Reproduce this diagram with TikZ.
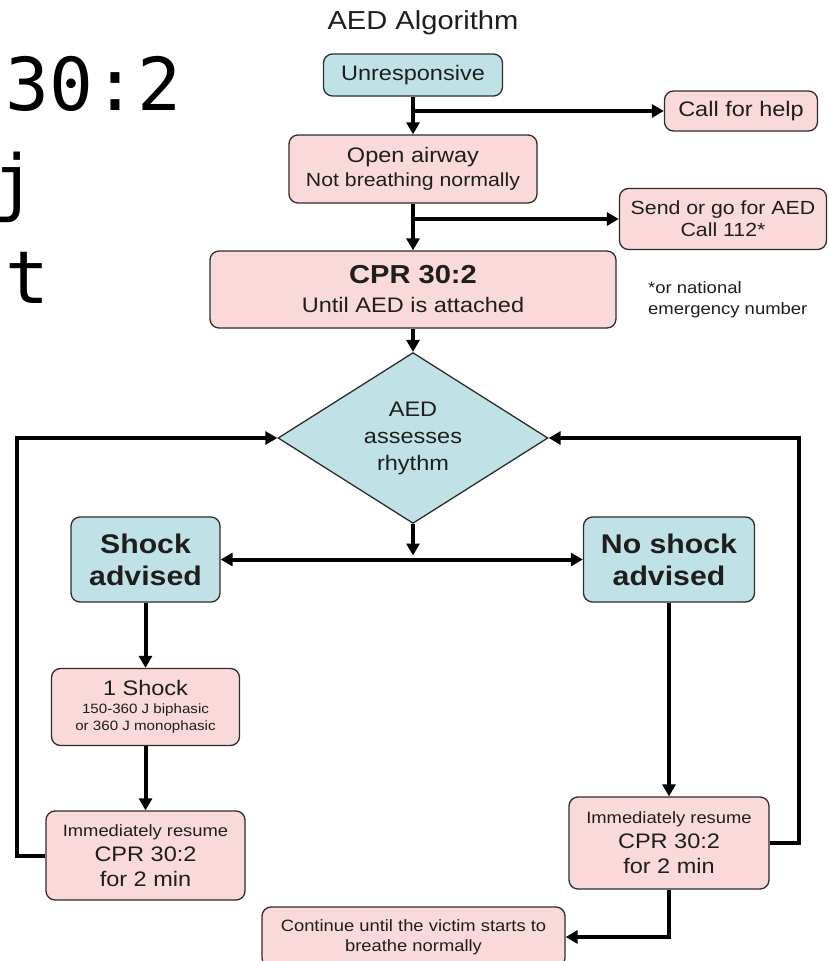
\documentclass[tikz,border=0pt]{standalone}
\usepackage{fontspec}
\setmainfont{Liberation Sans}[FakeStretch=1.12]
\newfontfamily\slidemono{DejaVu Sans Mono}
\usetikzlibrary{arrows.meta,shapes.geometric}

\definecolor{pinkfill}{RGB}{249,217,217}
\definecolor{bluefill}{RGB}{192,226,230}
\definecolor{boxline}{RGB}{45,45,45}
\definecolor{textgray}{RGB}{30,30,30}
\newcommand{\fsz}[2]{\fontsize{#1}{#2}\selectfont}

\begin{document}
\begin{tikzpicture}[
x=1pt, y=-1pt,
box/.style={draw=boxline, line width=1.3pt, rounded corners=9pt, inner sep=0pt, align=center, text=textgray},
pinkbox/.style={box, fill=pinkfill},
bluebox/.style={box, fill=bluefill},
conn/.style={line width=4pt, -{Triangle[length=12pt,width=13pt]}},
slide/.style={inner sep=0pt, font=\slidemono\fsz{73}{97}}
]

\useasboundingbox (0,0) rectangle (829,961);
\fill[white] (0,0) rectangle (829,961);

% text of the slide behind, cut at the left edge
\node[slide, anchor=base west] (slidea) at (5,110) {30:2};
\node[slide, anchor=base east] (slideb) at (37,207) {j};
\node[slide, anchor=base east] (slidec) at (49.5,303) {ut};

\node[font=\fsz{26}{30}, text=textgray] (title) at (423,23) {AED Algorithm};

\node[bluebox, minimum width=179pt, minimum height=42pt, font=\fsz{21}{25}] (unresp) at (413,75) {Unresponsive};
\node[pinkbox, minimum width=153pt, minimum height=40pt, font=\fsz{21}{25}] (callhelp) at (741,111) {Call for help};
\node[pinkbox, minimum width=248pt, minimum height=68pt, font=\fsz{19}{24}] (airway) at (413,169) {{\fsz{21}{24}Open airway}\\Not breathing normally};
\node[pinkbox, minimum width=207pt, minimum height=61pt, font=\fsz{19}{22}] (sendaed) at (723,219) {Send or go for AED\\Call 112*};
\node[pinkbox, minimum width=406pt, minimum height=77pt, font=\fsz{21}{29}] (cpr) at (413,289.5) {{\bfseries\fsz{26}{29}CPR 30:2}\\Until AED is attached};
\node[anchor=west, align=left, inner sep=0pt, font=\fsz{16.5}{21}, text=textgray] (note) at (648,300) {*or national\\emergency number};

\node[diamond, draw=boxline, line width=1.3pt, fill=bluefill, minimum width=270pt, minimum height=170pt, inner sep=0pt, align=center, font=\fsz{21}{27}, text=textgray] (rhythm) at (413,438) {AED\\assesses\\rhythm};

\node[bluebox, minimum width=149pt, minimum height=85pt, font=\bfseries\fsz{27}{32}] (shock) at (145.5,559.5) {Shock\\advised};
\node[bluebox, minimum width=171pt, minimum height=85pt, font=\bfseries\fsz{27}{32}] (noshock) at (669,559.5) {No shock\\advised};
\node[pinkbox, minimum width=188pt, minimum height=77pt, font=\fsz{13.5}{17}] (oneshock) at (145.5,707) {{\fsz{21}{17}1 Shock}\\[1.5pt]150-360 J biphasic\\or 360 J monophasic};
\node[pinkbox, minimum width=199pt, minimum height=89pt, font=\fsz{21}{25}] (resumeL) at (145.5,855.5) {{\fsz{16.4}{25}Immediately resume}\\CPR 30:2\\for 2 min};
\node[pinkbox, minimum width=200pt, minimum height=92pt, font=\fsz{21}{25}] (resumeR) at (669,843) {{\fsz{16.4}{25}Immediately resume}\\CPR 30:2\\for 2 min};
\node[pinkbox, minimum width=303pt, minimum height=60pt, font=\fsz{16.4}{20}] (cont) at (413.5,937) {Continue until the victim starts to\\breathe normally};

\coordinate (b1) at (unresp.south |- callhelp.west);
\coordinate (b2) at (airway.south |- sendaed.west);
\coordinate (split) at (rhythm.south |- shock.east);

\draw[conn] (unresp) -- (airway);
\draw[conn] (b1) -- (callhelp);
\draw[conn] (airway) -- (cpr);
\draw[conn] (b2) -- (sendaed);
\draw[conn] (cpr) -- (rhythm);
\draw[conn, shorten >=4pt] (rhythm) -- (split);
\draw[conn, {Triangle[length=12pt,width=13pt]}-{Triangle[length=12pt,width=13pt]}] (shock) -- (noshock);
\draw[conn] (shock) -- (oneshock);
\draw[conn] (oneshock) -- (resumeL);
\draw[conn] (noshock) -- (resumeR);
\draw[conn] (resumeL.west) -- ++(-28,0) |- (rhythm.west);
\draw[conn] (resumeR.east) -- ++(29,0) |- (rhythm.east);
\draw[conn] (resumeR.south) |- (cont.east);
\end{tikzpicture}
\end{document}
